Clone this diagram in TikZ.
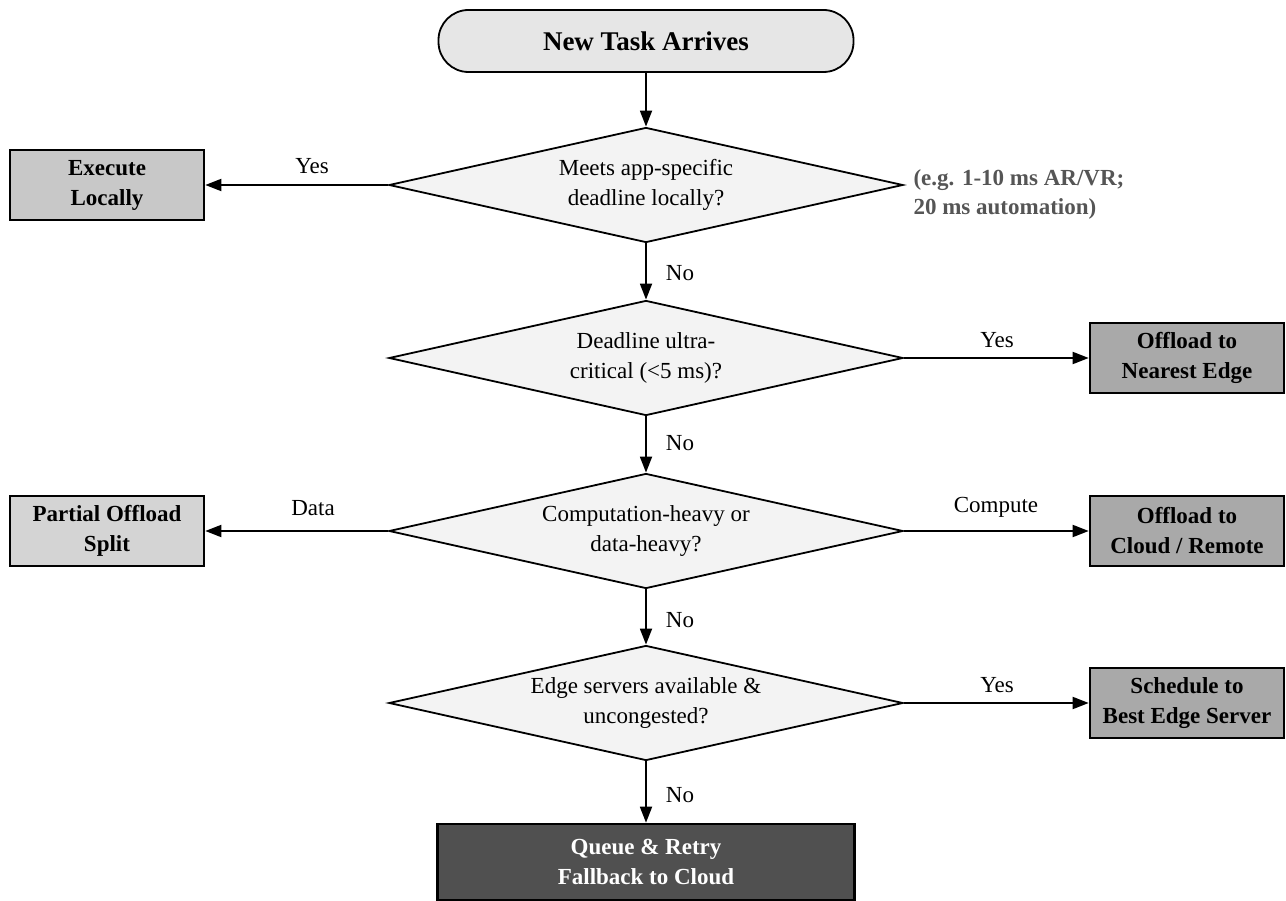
\documentclass[tikz,border=0pt]{standalone}
\usepackage{fontspec}
\setmainfont{Liberation Serif}
\usetikzlibrary{shapes.geometric,arrows.meta}
\definecolor{startfill}{HTML}{E6E6E6}
\definecolor{decfill}{HTML}{F3F3F3}
\definecolor{lightbox}{HTML}{C8C8C8}
\definecolor{paleBox}{HTML}{D4D4D4}
\definecolor{midbox}{HTML}{A9A9A9}
\definecolor{darkbox}{HTML}{505050}
\definecolor{notegray}{HTML}{555555}
\tikzset{
  txt/.style={font=\fontsize{23}{30}\selectfont, align=center},
  startnode/.style={draw, line width=1.8pt, fill=startfill, rounded corners=30pt,
    minimum width=415pt, minimum height=62pt, inner sep=0pt,
    font=\fontsize{27}{32}\selectfont\bfseries},
  decision/.style={draw, line width=1.8pt, fill=decfill, diamond, aspect=4.47,
    minimum width=514pt, minimum height=115pt, inner sep=0pt, txt},
  actbox/.style={draw, line width=2.6pt, minimum width=194pt, minimum height=70pt,
    inner sep=0pt, txt, font=\fontsize{23}{30}\selectfont\bfseries},
  arr/.style={line width=1.8pt, -{Triangle[length=16pt,width=12pt]}},
  elabel/.style={txt},
}
\begin{document}
\begin{tikzpicture}[x=1pt,y=-1pt]
\useasboundingbox (0,0) rectangle (1286,901);
\node[startnode] (start) at (646,41) {New Task Arrives};
\node[decision] (d1) at (646,185) {Meets app-specific\\deadline locally?};
\node[decision] (d2) at (646,358) {Deadline ultra-\\critical (<5 ms)?};
\node[decision] (d3) at (646,531) {Computation-heavy or\\data-heavy?};
\node[decision] (d4) at (646,703) {Edge servers available \&\\uncongested?};
\node[actbox, fill=lightbox] (exec) at (107,185) {Execute\\Locally};
\node[actbox, fill=midbox] (near) at (1187,358) {Offload to\\Nearest Edge};
\node[actbox, fill=paleBox] (part) at (107,531) {Partial Offload\\Split};
\node[actbox, fill=midbox] (cloud) at (1187,531) {Offload to\\Cloud / Remote};
\node[actbox, fill=midbox] (sched) at (1187,703) {Schedule to\\Best Edge Server};
\node[actbox, fill=darkbox, text=white, minimum width=417pt, minimum height=76pt] (queue) at (646,862) {Queue \& Retry\\Fallback to Cloud};
\node[txt, font=\fontsize{23}{29}\selectfont\bfseries, text=notegray, align=left, anchor=west] (note) at (910,194) {(e.g. 1-10 ms AR/VR;\\20 ms automation)};

\draw[arr] (start.south) -- (d1.north);
\draw[arr] (d1.west) -- (exec.east);
\draw[arr] (d1.south) -- (d2.north);
\draw[arr] (d2.east) -- (near.west);
\draw[arr] (d2.south) -- (d3.north);
\draw[arr] (d3.west) -- (part.east);
\draw[arr] (d3.east) -- (cloud.west);
\draw[arr] (d3.south) -- (d4.north);
\draw[arr] (d4.east) -- (sched.west);
\draw[arr] (d4.south) -- (queue.north);

\node[elabel] (l1) at (312,166) {Yes};
\node[elabel] (l2) at (680,273) {No};
\node[elabel] (l3) at (997,340) {Yes};
\node[elabel] (l4) at (680,443) {No};
\node[elabel] (l5) at (313,508) {Data};
\node[elabel] (l6) at (996,507) {Compute};
\node[elabel] (l7) at (680,620) {No};
\node[elabel] (l8) at (997,685) {Yes};
\node[elabel] (l9) at (680,795) {No};
\end{tikzpicture}
\end{document}
